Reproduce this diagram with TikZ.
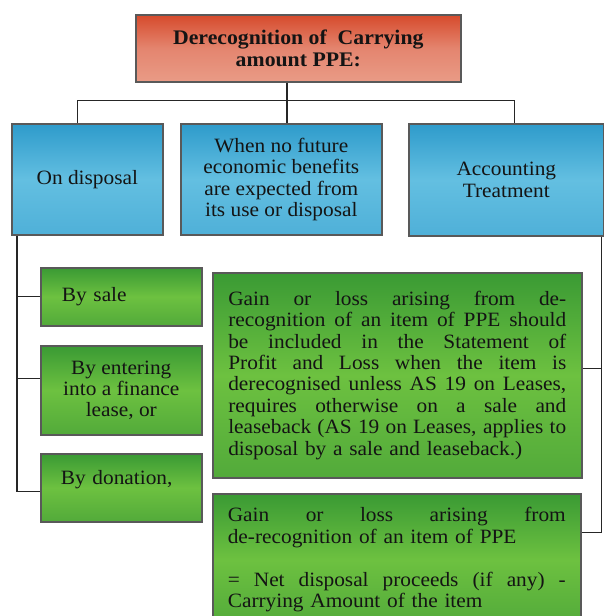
\documentclass[tikz,border=0pt]{standalone}
\usepackage{fontspec}
\setmainfont{Liberation Serif}[FakeStretch=1.05]
\usetikzlibrary{shadows}
\definecolor{redTop}{HTML}{D64A2C}
\definecolor{redMid}{HTML}{E4856F}
\definecolor{redBot}{HTML}{E99B86}
\definecolor{blueTop}{HTML}{2E9BCB}
\definecolor{blueMid}{HTML}{63BFE1}
\definecolor{blueBot}{HTML}{4FB0D8}
\definecolor{greenTop}{HTML}{3A9A34}
\definecolor{greenMid}{HTML}{6DC140}
\definecolor{greenBot}{HTML}{52AA3A}
\newcommand{\jl}[1]{\leavevmode\hbox to 338bp{\spaceskip=0.25em plus 1fil minus 0.05em\relax #1}}
\begin{document}
\begin{tikzpicture}[x=1bp,y=-1bp,
  every node/.style={font=\fontsize{20.4}{21.5}\selectfont, text=black!92},
  boxbase/.style={draw=black!65, line width=1.6bp, inner sep=0pt, anchor=north west,
    drop shadow={shadow xshift=1.3bp, shadow yshift=-1.3bp, fill=black!85, opacity=1}},
  redbox/.style={boxbase, top color=redTop, bottom color=redBot, middle color=redMid},
  bluebox/.style={boxbase, top color=blueTop, bottom color=blueBot, middle color=blueMid},
  greenbox/.style={boxbase, top color=greenTop, bottom color=greenBot, middle color=greenMid},
  conn/.style={draw=black!85, line width=1.3bp}]
\useasboundingbox (0,0) rectangle (604,616);
\clip (0,0) rectangle (604,616);

% top
\node[redbox, minimum width=325bp, minimum height=67bp, align=center,
  font=\fontsize{20.8}{22}\selectfont\bfseries] (T) at (135,14)
  {Derecognition of\ \ Carrying\\amount PPE:};

% blue row
\node[bluebox, minimum width=151bp, minimum height=111bp, align=center] (D) at (11,123) {On disposal};
\node[bluebox, minimum width=201bp, minimum height=111bp, align=center] (M) at (180,123)
  {When no future\\economic benefits\\are expected from\\its use or disposal};
\node[bluebox, minimum width=195bp, minimum height=112bp, align=center] (A) at (408,123)
  {Accounting\\Treatment};

% left green boxes
\node[greenbox, minimum width=161bp, minimum height=58bp, text width=119bp, align=left] (S1) at (40,267) {By sale};
\node[greenbox, minimum width=161bp, minimum height=89bp, align=center] (S2) at (40,345)
  {By entering\\into a finance\\lease, or};
\node[greenbox, minimum width=161bp, minimum height=68bp, text width=121bp, align=left] (S3) at (40,453)
  {By donation,\\\mbox{}};

% right green boxes
\node[greenbox, minimum width=369bp, minimum height=205bp, text width=338bp, align=left] (G1) at (212,272)
  {\jl{Gain or loss arising from de-}\\
   \jl{recognition of an item of PPE should}\\
   \jl{be included in the Statement of}\\
   \jl{Profit and Loss when the item is}\\
   \jl{derecognised unless AS 19 on Leases,}\\
   \jl{requires otherwise on a sale and}\\
   \jl{leaseback (AS 19 on Leases, applies to}\\
   disposal by a sale and leaseback.)};
\node[greenbox, minimum width=368bp, minimum height=132bp, text width=338bp, align=left] (G2) at (212,493)
  {\jl{Gain or loss arising from}\\
   de-recognition of an item of PPE\\[21.5bp]
   \jl{= Net disposal proceeds (if any) -}\\
   Carrying Amount of the item};

% connectors
\coordinate (hj) at ([xshift=-11.5bp,yshift=-18bp]T.south);
\draw[conn, line width=2bp] ([xshift=-11.5bp]T.south) -- (hj);
\draw[conn] ([xshift=-9.5bp]D.north) |- (hj) -| ([xshift=8.5bp]A.north);
\draw[conn, line width=2bp] (hj) -- (hj |- M.north);

\coordinate (lt) at ([xshift=6bp]D.south west);
\coordinate (s2p) at ([yshift=12bp]S2.west);
\coordinate (s3p) at ([yshift=-4bp]S3.west);
\draw[conn] (lt) |- (s3p);
\draw[conn] (lt |- S1.west) -- (S1.west);
\draw[conn] (lt |- s2p) -- (s2p);

\coordinate (rt) at ([xshift=-3bp]A.south east);
\coordinate (g1p) at ([yshift=6.5bp]G1.east);
\coordinate (g2p) at ([yshift=27bp]G2.east);
\draw[conn] (rt) |- (g2p);
\draw[conn] (rt |- g1p) -- (g1p);
\end{tikzpicture}
\end{document}
